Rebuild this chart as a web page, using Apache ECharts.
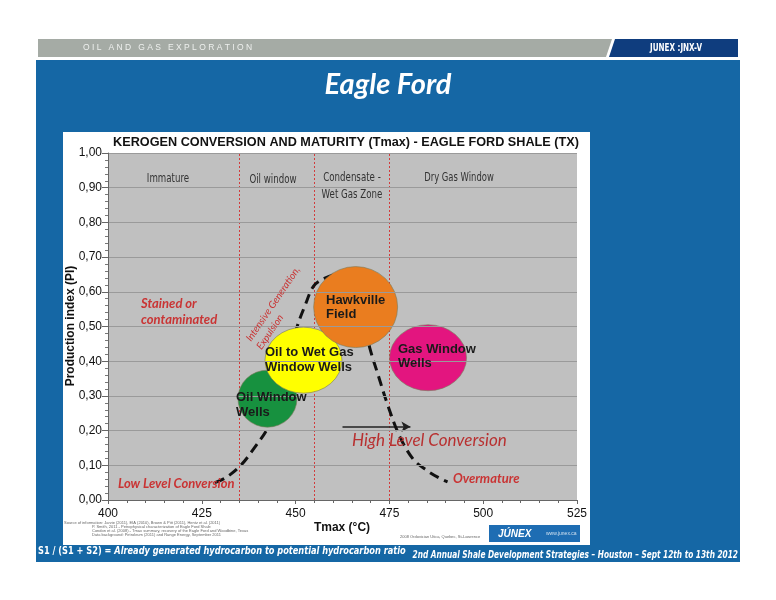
<!DOCTYPE html>
<html><head><meta charset="utf-8">
<script src="https://cdn.jsdelivr.net/npm/echarts@6/dist/echarts.min.js"></script>
<style>html,body{margin:0;padding:0;background:#fff}#c{width:776px;height:600px}</style>
</head><body><div id="c"></div>
<script>
// ---------- data ----------
const tmaxTicks = [400, 425, 450, 475, 500, 525];
const piTicks = [0, 0.1, 0.2, 0.3, 0.4, 0.5, 0.6, 0.7, 0.8, 0.9, 1.0];
const zoneTmax = [435, 455, 475];
const thresholdPI = [0.10];
const strongGridPI = [0.3, 0.6, 0.9];
const bubbleNames = ['Oil Window Wells', 'Oil to Wet Gas Window Wells', 'Hawkville Field', 'Gas Window Wells'];
const bubbleTmax = [442.5, 452.1, 466.0, 485.3];
const bubblePI = [0.292, 0.403, 0.556, 0.41];
const bubbleColors = ['#17913f', '#ffff00', '#ea7d1f', '#e3157f'];
const curveTmax = [428.5, 431.5, 435.4, 439, 442.7, 446, 448.5, 450.3, 452.5, 454.7, 457, 461, 465, 468, 469.8, 472, 474.7, 477.8, 481.4, 485, 488.5, 490.5];
const curvePI   = [0.05, 0.065, 0.10, 0.15, 0.21, 0.30, 0.40, 0.495, 0.56, 0.615, 0.635, 0.65, 0.62, 0.52, 0.437, 0.36, 0.269, 0.182, 0.117, 0.085, 0.062, 0.052];
const arrowTmax = [462.5, 480.6];
const arrowPI = [0.211, 0.211];

// ---------- layout / styles ----------
const bubbleSizes = [[59, 57], [77, 66], [84, 81], [77, 66]];
const ARIAL = '"Liberation Sans", Arial, sans-serif';
const NARROW = '"DejaVu Sans Condensed", "DejaVu Sans", sans-serif';
const CAL = 'Lato, "Open Sans", sans-serif';
const RED = '#c93434';

function txt(x, y, text, font, fill, align, rot, sx) {
  return { type: 'text', x: x, y: y, rotation: rot || 0, scaleX: sx || 1, z: 100,
    style: { text: text, font: font, fill: fill, textAlign: align || 'left', textVerticalAlign: 'middle' } };
}

const graphics = [
  // header
  { type: 'polygon', z: 1, shape: { points: [[38, 39], [612, 39], [606, 57], [38, 57]] }, style: { fill: '#a5aba5' } },
  { type: 'polygon', z: 1, shape: { points: [[615, 39], [738, 39], [738, 57], [609, 57]] }, style: { fill: '#0f3d7e' } },
  txt(83, 48, 'O I L   A N D   G A S   E X P L O R A T I O N', '8.5px ' + ARIAL, '#eef0ee'),
  txt(676, 48, 'JUNEX :JNX-V', 'bold 10px ' + NARROW, '#ffffff', 'center', 0, 0.8),
  // blue panel
  { type: 'rect', z: 1, shape: { x: 36, y: 60, width: 704, height: 502 }, style: { fill: '#1567a5' } },
  { type: 'text', z: 100, x: 388, y: 85, style: { text: 'Eagle Ford', font: 'italic bold 29px ' + CAL, fill: '#ffffff', textAlign: 'center', textVerticalAlign: 'middle', shadowColor: 'rgba(0,0,0,0.6)', shadowOffsetX: 2, shadowOffsetY: 2, shadowBlur: 2 } },
  // white chart box
  { type: 'rect', z: 2, shape: { x: 63, y: 132, width: 527, height: 413 }, style: { fill: '#ffffff' } },
  txt(346, 142, 'KEROGEN CONVERSION AND MATURITY (Tmax) - EAGLE FORD SHALE (TX)', 'bold 13px ' + ARIAL, '#111', 'center', 0, 0.975),
  // zone labels
  txt(168, 179, 'Immature', '13px ' + NARROW, '#333', 'center', 0, 0.74),
  txt(273, 180, 'Oil window', '13px ' + NARROW, '#333', 'center', 0, 0.74),
  txt(352, 178, 'Condensate -', '13px ' + NARROW, '#333', 'center', 0, 0.74),
  txt(352, 195, 'Wet Gas Zone', '13px ' + NARROW, '#333', 'center', 0, 0.74),
  txt(459, 178, 'Dry Gas Window', '13px ' + NARROW, '#333', 'center', 0, 0.72),
  // red annotations
  txt(141, 304, 'Stained or', 'italic bold 13px ' + CAL, RED),
  txt(141, 320, 'contaminated', 'italic bold 13px ' + CAL, RED),
  txt(118, 484, 'Low Level Conversion', 'italic bold 13px ' + CAL, RED),
  txt(453, 479, 'Overmature', 'italic bold 13px ' + CAL, RED),
  txt(352, 441, 'High Level Conversion', 'italic 17px ' + CAL, '#b83030'),
  txt(273, 304, 'Intensive Generation,', 'italic 10px ' + CAL, RED, 'center', 0.974),
  txt(270, 332, 'Expulsion', 'italic 10px ' + CAL, RED, 'center', 0.974),
  // bubble labels
  txt(236, 397, 'Oil Window', 'bold 13px ' + ARIAL, '#1a1a1a'),
  txt(236, 412, 'Wells', 'bold 13px ' + ARIAL, '#1a1a1a'),
  txt(265, 352, 'Oil to Wet Gas', 'bold 13px ' + ARIAL, '#1a1a1a'),
  txt(265, 367, 'Window Wells', 'bold 13px ' + ARIAL, '#1a1a1a'),
  txt(326, 300, 'Hawkville', 'bold 13px ' + ARIAL, '#1a1a1a'),
  txt(326, 314, 'Field', 'bold 13px ' + ARIAL, '#1a1a1a'),
  txt(398, 349, 'Gas Window', 'bold 13px ' + ARIAL, '#1a1a1a'),
  txt(398, 363, 'Wells', 'bold 13px ' + ARIAL, '#1a1a1a'),
  // axis names
  txt(342, 528, 'Tmax (°C)', 'bold 12px ' + ARIAL, '#111', 'center'),
  txt(71, 326, 'Production index (PI)', 'bold 12px ' + ARIAL, '#111', 'center', Math.PI / 2),
  // tiny source notes
  txt(64, 523, 'Source of information: Jarvie (2011), EIA (2010), Brown & Pitt (2011), Hentz et al. (2011)', '4px ' + ARIAL, '#666'),
  txt(92, 527, 'P. Smith, 2011 - Petrophysical characterization of Eagle Ford Shale', '4px ' + ARIAL, '#666'),
  txt(92, 531, 'Condon et al. (2008) - Tmax summary, recovery of the Eagle Ford and Woodbine, Texas', '4px ' + ARIAL, '#666'),
  txt(92, 535, 'Data background: Petroleum (2011) and Range Energy, September 2011', '4px ' + ARIAL, '#666'),
  txt(400, 537, '2008 Ordovician Utica, Quebec, St-Lawrence', '4px ' + ARIAL, '#666'),
  // logo
  { type: 'rect', z: 3, shape: { x: 489, y: 525, width: 91, height: 17 }, style: { fill: '#1e6db3' } },
  txt(498, 534, 'JÚNEX', 'italic bold 10px ' + ARIAL, '#ffffff'),
  txt(546, 534, 'www.junex.ca', '5px ' + ARIAL, '#cfe0f0'),
  // footer
  { type: 'text', z: 100, x: 38, y: 551, scaleX: 0.83, style: { rich: { a: { font: 'bold 11px ' + NARROW, fill: '#fff' }, b: { font: 'italic bold 11px ' + NARROW, fill: '#fff' } }, text: '{a|S1 / (S1 + S2) = }{b|Already generated hydrocarbon to potential hydrocarbon ratio}', textVerticalAlign: 'middle' } },
  txt(738, 555, '2nd Annual Shale Development Strategies – Houston – Sept 12th to 13th 2012', 'italic bold 10px ' + NARROW, '#ffffff', 'right', 0, 0.82)
];

const chart = echarts.init(document.getElementById('c'), null, { renderer: 'canvas' });
chart.setOption({
  backgroundColor: '#ffffff',
  animation: false,
  graphic: graphics,
  grid: { left: 108, right: 199, top: 153, bottom: 100, show: true, backgroundColor: '#c0c0c0', borderWidth: 0, z: 5 },
  xAxis: {
    type: 'value', min: tmaxTicks[0], max: tmaxTicks[tmaxTicks.length - 1], interval: 25, z: 10,
    axisLine: { show: true, lineStyle: { color: '#666', width: 1 } },
    axisTick: { show: true, length: 4, lineStyle: { color: '#666' } },
    minorTick: { show: true, splitNumber: 5, length: 3, lineStyle: { color: '#666' } },
    splitLine: { show: false },
    axisLabel: { fontSize: 12, color: '#111', fontFamily: ARIAL, margin: 8 }
  },
  yAxis: {
    type: 'value', min: piTicks[0], max: piTicks[piTicks.length - 1], interval: 0.1, z: 10,
    axisLine: { show: true, lineStyle: { color: '#666', width: 1 } },
    axisTick: { show: true, length: 6, lineStyle: { color: '#666' } },
    minorTick: { show: true, splitNumber: 5, length: 3, lineStyle: { color: '#777' } },
    splitLine: { show: true, lineStyle: { color: '#9a9a9a', width: 1 } },
    axisLabel: { fontSize: 12, color: '#111', fontFamily: ARIAL, margin: 6, formatter: v => v.toFixed(2).replace('.', ',') }
  },
  series: [
    {
      type: 'line', z: 6, silent: true, data: [], symbol: 'none',
      markLine: {
        silent: true, symbol: 'none', label: { show: false },
        data: strongGridPI.map(v => ({ yAxis: v, lineStyle: { color: '#555', width: 1, type: 'solid' } }))
          .concat(thresholdPI.map(v => ({ yAxis: v, lineStyle: { color: '#d23c3c', width: 1, type: 'solid' } })))
          .concat(zoneTmax.map(v => ({ xAxis: v, lineStyle: { color: '#d23c3c', width: 1, type: [2, 2] } })))
      }
    },
    {
      type: 'line', z: 7, smooth: 0.35, symbol: 'none', silent: true,
      data: curveTmax.map((x, i) => [x, curvePI[i]]),
      lineStyle: { color: '#111', width: 3, type: [10, 6] }
    },
    {
      type: 'scatter', z: 8, silent: true,
      data: bubbleTmax.map((x, i) => ({ name: bubbleNames[i], value: [x, bubblePI[i]], symbolSize: bubbleSizes[i], itemStyle: { color: bubbleColors[i] } })),
      itemStyle: { borderColor: '#7a7a5a', borderWidth: 0.6, opacity: 1 }
    },
    {
      type: 'line', z: 8, silent: true, data: [], symbol: 'none',
      markLine: {
        silent: true, symbol: ['none', 'arrow'], symbolSize: [8, 9], label: { show: false },
        lineStyle: { color: '#222', width: 1.5, type: 'solid' },
        data: [[{ coord: [arrowTmax[0], arrowPI[0]] }, { coord: [arrowTmax[1], arrowPI[1]] }]]
      }
    }
  ]
});
</script>
</body></html>
